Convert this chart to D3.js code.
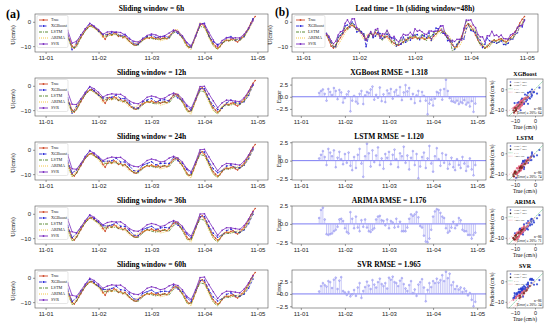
<!DOCTYPE html>
<html>
<head>
<meta charset="utf-8">
<script src="https://cdn.jsdelivr.net/npm/d3@7"></script>
<style>
  body { margin: 0; background: #fff; }
  svg { display: block; font-family: "Liberation Serif", "DejaVu Serif", serif; }
</style>
</head>
<body>
<svg id="fig" width="550" height="326"></svg>
<script>
'use strict';

// hourly observed current, 11-01 10:00 .. 11-04 23:00 (86 values)
const trueU = [
  -5.5, -7.5, -10.0, -10.8, -9.5, -8.0, -6.5, -5.0, -3.5, -2.5, -1.8, -1.5, -2.2, -3.0,
  -3.5, -4.5, -6.0, -7.2, -5.5, -4.8, -5.5, -4.5, -5.0, -6.0, -5.5, -6.5, -6.0, -7.0, -8.0, -8.8, -9.4, -9.6, -9.0, -8.2, -7.5, -7.0, -6.5, -6.8,
  -6.2, -6.8, -7.0, -6.5, -7.2, -6.8, -6.5, -7.0, -6.0, -5.0, -4.0, -3.5, -4.2, -5.5, -6.5, -7.8, -9.5, -10.5, -10.2, -8.5, -6.0, -3.5, -1.5, -0.8,
  -1.8, -3.5, -5.5, -7.5, -9.0, -10.0, -10.8, -10.2, -9.0, -8.0, -7.5, -7.8, -7.2, -7.0, -7.8, -8.3, -7.5, -6.5, -5.5, -4.0, -2.5, -0.5, 1.0, 2.2
];

// lead time 1h (window 48h): hourly errors (predicted - true)
const errXgb = [
  0.8, 1.2, 1.5, 0.6, -0.8, 1.6, 1.0, 0.4, 1.8, 1.2, -0.5, 1.4, 0.9, -1.2,
  -0.3, 0.5, 1.1, -3.0, -0.8, 0.2, -1.0, -1.4, 0.6, 1.2, -1.5, 0.3, 1.0, 0.8, 1.5, 2.1, -0.6, 0.4, -0.2, 1.9, -0.9, 0.5, -1.1, 1.3,
  0.7, 1.6, -0.4, 1.0, 1.4, 0.2, 2.0, -0.7, 0.9, 2.4, 1.1, 1.8, -0.5, 0.6, -1.3, 0.3, 1.2, -0.9, 1.0, 0.2, -0.8, -3.6, -1.4, -0.6,
  -1.8, -0.4, 1.0, 0.8, 1.4, -0.6, 1.6, 3.5, 1.2, -0.3, -0.9, -1.0, -1.2, -0.8, -1.5, -1.1, -1.3, -0.7, -1.6, -1.2, -2.0, -0.9, -3.1, -1.4
];
const errLstm = [
  0.3, 0.8, 1.3, 0.5, -0.6, 1.6, 1.1, 0.6, 1.4, -0.9, 0.4, 1.2, 0.2, -0.5,
  0.9, -0.3, 1.1, -0.7, -1.3, 0.5, -1.0, 0.8, 1.6, -0.4, -2.2, 0.6, 2.3, 1.0, -0.8, 1.4, -0.2, 0.7, 1.8, -0.6, 0.3, -1.1, 0.9, 0.4,
  1.2, -0.5, 0.8, 1.5, 0.2, -0.9, 1.0, 0.6, 1.9, -0.3, 0.7, -1.2, 0.4, 1.3, -0.6, 0.9, -2.4, -0.8, 0.5, 1.1, -1.0, 0.3, 2.0, -0.4,
  -1.5, 0.6, 1.7, 0.2, -0.7, 1.0, -0.3, 0.8, -1.1, -0.5, 0.4, -0.9, -1.3, 0.2, -0.6, -1.0, 0.5, -0.4, -1.4, -0.8, 0.3, -1.2, -2.0, -0.6
];
const errArima = [
  0.8, 1.9, 2.2, 0.6, -1.4, -1.5, -1.4, -1.3, -1.0, -0.8, -0.4, 0.6, 0.7, 0.4,
  -0.6, -1.1, -1.3, 1.6, 0.7, -0.6, 1.0, -0.5, -1.0, 0.5, -0.4, 0.6, -0.5, -1.0, -1.1, -0.8, -0.6, 0.6, 1.0, 1.1, 0.5, 0.4, -0.2, 0.6,
  -0.6, 0.4, 0.2, -0.5, 0.7, -0.4, 0.3, -1.0, -1.0, -1.0, -0.5, 0.7, 1.3, 1.1, 1.3, 1.6, 0.9, -0.3, -0.5, -1.6, -2.4, -2.5, -2.0, -0.8,
  1.0, 1.7, 2.0, 1.9, 1.5, 1.0, 0.8, -0.6, -1.2, -1.0, -0.5, 0.3, -0.6, -0.2, 0.8, 0.5, -0.8, -1.0, -1.0, -1.5, -1.5, -2.0, -1.5, -1.2
];
const errSvr = [
  0.5, 1.6, 2.2, 1.8, 1.5, 2.6, 2.4, 1.2, 2.9, 3.3, 1.0, 2.7, 3.4, 0.6,
  0.3, -0.2, 0.4, -0.5, -0.1, 0.8, -0.4, 1.3, 2.2, -0.8, 0.6, 1.4, 2.5, 1.7, 1.0, 2.8, 1.9, 1.3, 2.4, 3.1, 2.0, 1.6, 2.2, 1.1,
  3.3, 2.9, 3.5, 2.4, 2.2, 1.6, 2.7, 3.2, 2.0, 1.1, 0.6, 1.8, 2.6, 0.2, 0.9, -0.4, 1.9, 2.4, 3.0, 1.3, -1.5, 0.8, 2.2, 1.4,
  2.6, 2.2, 3.1, 2.3, 2.8, 3.8, 2.6, 4.5, 3.2, 4.1, 1.8, 2.4, 1.0, 1.6, 0.9, 1.3, 0.4, 1.1, 0.6, -0.3, 0.2, -1.2, -2.5, -1.6
];

// sliding-window runs: 2-hourly errors, 11-01 10:00 .. 11-04 22:00 (43 values)
const win6Xgb = [0.5, -1.5, 0.8, 1.2, 0.6, 1.0, 0.4, -0.5, 0.8, 0.3, 1.0, 0.6, -0.4, 0.9, 1.2, 0.5, -0.3, 0.7, 0.4, 0.8, 0.5, 1.1, 0.6, -0.5, 0.3, -0.6, 0.4, 0.9, -0.4, 0.2, 0.6, 1.2, -0.5, 0.8, 1.5, 0.4, 0.9, 1.1, 0.3, 0.5, -0.6, -0.4, 0.2];
const win6Lstm = [-0.8, -0.6, -1.0, 0.3, -0.4, 0.2, -0.3, -0.2, 0.4, -0.5, 0.3, -0.3, -0.6, -0.2, 0.1, -0.4, -0.5, -0.2, 0.3, -0.6, -0.3, 0.2, -0.4, -0.8, -0.5, 0.3, -0.2, -0.6, -0.3, 0.1, -0.4, -0.5, -0.3, -0.8, -0.6, 0.2, -0.3, -0.5, 0.4, -0.2, -0.6, -0.4, -0.3];
const win6Arima = [-1.2, -1.0, 0.8, 0.9, 0.6, 0.3, -0.5, -0.6, -0.8, 0.9, -0.3, 0.4, -0.5, -0.7, -0.6, 0.5, 0.8, 0.3, -0.2, -0.3, 0.2, -0.6, -0.8, -0.4, 0.6, 0.9, 0.3, -0.9, -1.3, 0.8, 1.2, -0.6, -1.2, -1.0, -0.5, 0.6, 0.3, -0.4, 0.5, 0.7, -0.8, -1.0, -0.9];
const win6Svr = [2.0, 1.2, 1.5, 1.0, 0.6, 1.2, 0.4, 0.3, 0.9, 1.3, 1.5, 0.8, 1.1, 0.6, 1.0, 1.4, 0.7, 0.5, 0.9, 1.2, 1.6, 1.0, 0.8, 1.4, 0.6, 0.2, 0.8, 1.0, 0.4, 0.3, 0.6, 0.9, 1.2, 1.5, 0.8, 1.3, 1.0, 0.6, 1.2, 0.9, 0.4, -0.2, -0.6];

const win12Xgb = [0.6, -1.2, 1.0, 0.8, 0.5, 1.3, 0.2, -0.4, 1.0, 0.6, 0.8, 1.2, 0.3, 0.7, 1.0, 0.4, -0.2, 0.9, 0.6, 1.0, 0.4, 1.3, 0.8, -0.3, 0.5, -0.8, 0.6, 1.1, 0.2, 0.5, 0.3, 0.6, 0.2, 0.9, 1.0, -0.2, 0.4, 1.3, 0.8, 0.3, -1.0, -1.5, -0.8];
const win12Lstm = [-1.0, -0.8, -0.6, 0.5, -0.2, 0.4, -0.5, -0.3, 0.6, -0.4, 0.2, -0.5, -0.8, -0.4, 0.3, -0.2, -0.6, -0.4, 0.2, -0.8, -0.5, 0.4, -0.2, -1.0, -0.7, 0.5, -0.3, -0.8, -0.5, 0.2, -0.6, -0.7, -0.4, -1.0, -0.8, 0.3, -0.5, -0.7, 0.6, -0.3, -0.8, -0.6, -0.4];
const win12Arima = [-1.5, -1.3, 1.0, 0.8, 0.7, 0.2, -0.6, -0.7, -0.9, 1.0, -0.4, 0.5, -0.6, -0.9, -0.8, 0.6, 0.9, 0.4, -0.3, -0.4, 0.3, -0.8, -1.0, -0.5, 0.7, 1.1, 0.4, -1.0, -1.5, 0.9, 1.4, -0.8, -1.4, -1.2, -0.6, 0.8, 0.4, -0.5, 0.6, 0.9, -0.9, -1.2, -1.0];
const win12Svr = [3.0, 2.4, 1.8, 1.2, 0.8, 1.5, 1.0, 0.8, 1.4, 1.8, 2.2, 1.5, 2.0, 1.4, 1.8, 2.3, 1.6, 1.2, 1.8, 2.0, 2.4, 1.8, 1.5, 2.2, 1.0, 0.6, 1.2, 1.6, 1.0, 0.8, 1.2, 1.6, 2.2, 2.8, 1.8, 2.0, 1.6, 1.2, 1.5, 1.0, 0.6, 0.2, -0.4];

const win24Xgb = [1.0, 0.5, 1.2, 0.6, 0.8, 1.5, 0.6, 0.2, 1.3, 0.8, 1.0, 1.6, 0.5, 1.0, 1.4, 0.8, 0.2, 1.2, 0.9, 1.3, 0.8, 1.6, 1.0, 0.4, 0.9, -0.3, 1.0, 1.4, 0.6, 0.8, 0.5, 0.9, 0.6, 1.2, 1.4, 0.5, 0.8, 1.0, 0.5, 0.1, -0.8, -1.2, -1.0];
const win24Lstm = [-0.6, -0.9, -0.4, 0.6, -0.1, 0.5, -0.3, -0.2, 0.7, -0.3, 0.3, -0.4, -0.6, -0.3, 0.4, -0.1, -0.5, -0.3, 0.3, -0.6, -0.4, 0.5, -0.1, -0.9, -0.6, 0.6, -0.2, -0.7, -0.4, 0.3, -0.5, -0.6, -0.3, -0.9, -0.7, 0.4, -0.4, -0.6, 0.7, -0.2, -0.7, -0.5, -0.3];
const win24Arima = [-1.3, -1.2, 0.9, 0.9, 0.6, 0.3, -0.5, -0.6, -0.8, 0.9, -0.3, 0.5, -0.5, -0.8, -0.7, 0.5, 0.8, 0.3, -0.2, -0.3, 0.3, -0.7, -0.9, -0.4, 0.6, 1.0, 0.3, -0.9, -1.4, 0.8, 1.3, -0.7, -1.3, -1.1, -0.5, 0.7, 0.3, -0.4, 0.5, 0.8, -0.8, -1.1, -0.9];
const win24Svr = [3.5, 2.2, 1.5, 0.9, 0.6, 1.3, 0.9, 0.7, 1.6, 2.0, 2.5, 1.8, 2.4, 1.6, 2.0, 2.6, 2.0, 1.5, 2.1, 2.4, 2.8, 2.2, 1.8, 2.6, 1.3, 0.8, 1.5, 1.8, 1.2, 1.0, 1.5, 2.0, 2.6, 3.2, 2.2, 2.4, 1.9, 1.5, 1.8, 1.2, 0.8, 0.3, -0.3];

const win36Xgb = [0.8, 0.2, 1.4, 0.9, 0.6, 1.1, 0.3, 0.0, 1.1, 0.5, 0.9, 1.4, 0.4, 0.8, 1.2, 0.6, 0.0, 1.0, 0.7, 1.1, 0.6, 1.4, 0.9, 0.2, 0.7, -0.5, 0.8, 1.2, 0.4, 0.6, 0.3, 0.7, 0.4, 1.0, 1.2, 0.3, 0.6, 0.9, 0.3, -0.2, -1.1, -1.6, -1.2];
const win36Lstm = [-0.9, -1.1, -0.5, 0.4, -0.3, 0.3, -0.4, -0.4, 0.5, -0.5, 0.1, -0.6, -0.9, -0.5, 0.2, -0.3, -0.7, -0.5, 0.1, -0.9, -0.6, 0.3, -0.3, -1.1, -0.8, 0.4, -0.4, -0.9, -0.6, 0.1, -0.7, -0.8, -0.5, -1.1, -0.9, 0.2, -0.6, -0.8, 0.5, -0.4, -0.9, -0.7, -0.5];
const win36Arima = [-1.4, -1.1, 0.9, 0.8, 0.6, 0.2, -0.6, -0.7, -0.9, 0.9, -0.4, 0.4, -0.6, -0.8, -0.7, 0.6, 0.8, 0.3, -0.3, -0.4, 0.2, -0.7, -1.0, -0.5, 0.6, 1.0, 0.3, -1.0, -1.4, 0.8, 1.3, -0.7, -1.3, -1.1, -0.6, 0.7, 0.3, -0.5, 0.5, 0.8, -0.9, -1.1, -1.0];
const win36Svr = [3.2, 2.6, 1.7, 1.1, 0.7, 1.4, 0.8, 0.6, 1.5, 1.9, 2.3, 1.6, 2.2, 1.5, 1.9, 2.4, 1.8, 1.4, 2.0, 2.2, 2.6, 2.0, 1.7, 2.4, 1.2, 0.7, 1.4, 1.7, 1.1, 0.9, 1.4, 1.8, 2.4, 3.0, 2.0, 2.2, 1.8, 1.4, 1.7, 1.1, 0.7, 0.3, -0.2];

const win60Xgb = [0.9, 0.3, 1.3, 0.7, 0.5, 1.2, 0.4, 0.1, 1.2, 0.7, 1.1, 1.5, 0.6, 0.9, 1.3, 0.7, 0.1, 1.1, 0.8, 1.2, 0.7, 1.5, 1.0, 0.3, 0.8, -0.4, 0.9, 1.3, 0.5, 0.7, 0.4, 0.8, 0.5, 1.1, 1.3, 0.4, 0.7, 1.0, 0.4, -0.1, -1.2, -1.8, -1.5];
const win60Lstm = [-0.7, -1.0, -0.3, 0.5, -0.2, 0.4, -0.2, -0.3, 0.6, -0.4, 0.2, -0.5, -0.7, -0.4, 0.3, -0.2, -0.6, -0.4, 0.2, -0.7, -0.5, 0.4, -0.2, -1.0, -0.7, 0.5, -0.3, -0.8, -0.5, 0.2, -0.6, -0.7, -0.4, -1.0, -0.8, 0.3, -0.5, -0.7, 0.6, -0.3, -0.8, -0.6, -0.4];
const win60Arima = [-1.2, -1.0, 0.8, 0.9, 0.5, 0.3, -0.5, -0.5, -0.8, 0.8, -0.3, 0.5, -0.5, -0.7, -0.6, 0.5, 0.7, 0.3, -0.2, -0.3, 0.3, -0.6, -0.9, -0.4, 0.5, 0.9, 0.3, -0.9, -1.3, 0.7, 1.2, -0.6, -1.2, -1.0, -0.5, 0.6, 0.3, -0.4, 0.4, 0.7, -0.8, -1.0, -0.9];
const win60Svr = [3.4, 2.8, 1.9, 1.3, 0.9, 1.6, 1.1, 0.9, 1.7, 2.1, 2.6, 1.9, 2.5, 1.8, 2.1, 2.7, 2.1, 1.6, 2.2, 2.5, 2.9, 2.3, 2.0, 2.7, 1.4, 1.0, 1.6, 1.9, 1.3, 1.1, 1.6, 2.1, 2.7, 3.3, 2.3, 2.5, 2.0, 1.6, 1.9, 1.3, 0.9, 0.4, -0.2];

const windowTitles = ['Sliding window = 6h', 'Sliding window = 12h', 'Sliding window = 24h',
  'Sliding window = 36h', 'Sliding window = 60h'];
const modelNames = ['XGBoost', 'LSTM', 'ARIMA', 'SVR'];
const modelRmse = ['1.318', '1.120', '1.176', '1.965'];
const within20 = [64, 74, 71, 34];

const seriesLabels = ['True', 'XGBoost', 'LSTM', 'ARIMA', 'SVR'];
const seriesColors = ['#cf4a2a', '#2323d6', '#4a7f22', '#f0c030', '#7b2cbf'];
const seriesDash = [null, '3,1.5', '3,1,1,1', '1,1', null];
const seriesDots = [true, true, false, false, true];

const svg = d3.select('#fig');
const start = Date.UTC(2020, 10, 1, 10);
const hour = i => new Date(start + i * 3600e3);
const xDomain = [new Date(Date.UTC(2020, 9, 31, 19, 12)), new Date(Date.UTC(2020, 10, 5, 4, 48))];
const dayTicks = d3.utcDay.range(new Date(Date.UTC(2020, 10, 1)), new Date(Date.UTC(2020, 10, 5, 1)));
const dayFmt = d3.utcFormat('%m-%d');

const panelH = 38;
const tops = [14, 78, 142, 206, 270];

function frame(g, w, h) {
  g.append('rect')
    .attr('width', w)
    .attr('height', h)
    .attr('fill', 'none')
    .attr('stroke', '#555')
    .attr('stroke-width', 0.6);
}

function styleAxis(a, size) {
  a.select('.domain').remove();
  a.selectAll('line').attr('stroke', '#555').attr('stroke-width', 0.6);
  a.selectAll('text').attr('font-size', size).attr('fill', '#222');
}

function timeAxis(g, x, h) {
  g.append('g')
    .attr('transform', 'translate(0,' + h + ')')
    .call(d3.axisBottom(x).tickValues(dayTicks).tickFormat(dayFmt).tickSize(2).tickPadding(2))
    .call(a => styleAxis(a, 6));
}

function legend(g) {
  const lg = g.append('g').attr('transform', 'translate(2,1.5)');
  lg.append('rect')
    .attr('width', 31)
    .attr('height', 32)
    .attr('rx', 1.5)
    .attr('fill', '#fff')
    .attr('fill-opacity', 0.85)
    .attr('stroke', '#ccc')
    .attr('stroke-width', 0.5);

  seriesLabels.forEach((name, i) => {
    const yy = 4.5 + i * 6;
    lg.append('line')
      .attr('x1', 2).attr('x2', 11).attr('y1', yy).attr('y2', yy)
      .attr('stroke', seriesColors[i])
      .attr('stroke-width', 0.9)
      .attr('stroke-dasharray', seriesDash[i]);
    if (seriesDots[i]) {
      lg.append('circle').attr('cx', 6.5).attr('cy', yy).attr('r', 0.9).attr('fill', seriesColors[i]);
    }
    lg.append('text')
      .attr('x', 14).attr('y', yy + 1.4)
      .attr('font-size', 4.2)
      .attr('fill', '#222')
      .text(name);
  });
}

// series: [{t, v}] arrays for True, XGBoost, LSTM, ARIMA, SVR
function linePanel(left, top, width, title, series) {
  const g = svg.append('g').attr('transform', 'translate(' + left + ',' + top + ')');
  const x = d3.scaleUtc().domain(xDomain).range([0, width]);
  const y = d3.scaleLinear().domain([-12.4, 3.2]).range([panelH, 0]);

  const line = d3.line().x(d => x(d.t)).y(d => y(d.v));

  series.forEach((s, i) => {
    g.append('path')
      .datum(s)
      .attr('fill', 'none')
      .attr('stroke', seriesColors[i])
      .attr('stroke-width', 0.8)
      .attr('stroke-dasharray', seriesDash[i])
      .attr('d', line);
    if (seriesDots[i]) {
      g.append('g')
        .selectAll('circle')
        .data(s)
        .enter().append('circle')
        .attr('cx', d => x(d.t))
        .attr('cy', d => y(d.v))
        .attr('r', 0.8)
        .attr('fill', seriesColors[i]);
    }
  });

  frame(g, width, panelH);
  timeAxis(g, x, panelH);

  g.append('g')
    .call(d3.axisLeft(y).tickValues([0, -10]).tickSize(2).tickPadding(2))
    .call(a => styleAxis(a, 6));

  legend(g);

  g.append('text')
    .attr('x', width / 2)
    .attr('y', -3)
    .attr('text-anchor', 'middle')
    .attr('font-size', 7.5)
    .attr('font-weight', 'bold')
    .text(title);

  g.append('text')
    .attr('transform', 'translate(' + (-20) + ',' + (panelH / 2 + 2) + ') rotate(-90)')
    .attr('text-anchor', 'middle')
    .attr('font-size', 6)
    .text('U(cm/s)');
}

function errorPanel(left, top, width, title, err) {
  const g = svg.append('g').attr('transform', 'translate(' + left + ',' + top + ')');
  const x = d3.scaleUtc().domain(xDomain).range([0, width]);
  const ext = d3.extent(err.concat([0]));
  const pad = (ext[1] - ext[0]) * 0.05;
  const y = d3.scaleLinear().domain([ext[0] - pad, ext[1] + pad]).range([panelH, 0]);

  g.append('line')
    .attr('x1', 0).attr('x2', width)
    .attr('y1', y(0)).attr('y2', y(0))
    .attr('stroke', '#5b5bf0')
    .attr('stroke-width', 0.8);

  g.append('g')
    .selectAll('line')
    .data(err)
    .enter().append('line')
    .attr('x1', (d, i) => x(hour(i)))
    .attr('x2', (d, i) => x(hour(i)))
    .attr('y1', y(0))
    .attr('y2', d => y(d))
    .attr('stroke', '#a3a3f2')
    .attr('stroke-width', 0.6);

  g.append('g')
    .selectAll('circle')
    .data(err)
    .enter().append('circle')
    .attr('cx', (d, i) => x(hour(i)))
    .attr('cy', d => y(d))
    .attr('r', 0.9)
    .attr('fill', '#c8c8fa')
    .attr('stroke', '#7a7aea')
    .attr('stroke-width', 0.4);

  frame(g, width, panelH);
  timeAxis(g, x, panelH);

  g.append('g')
    .call(d3.axisLeft(y).tickValues([-2.5, 0, 2.5]).tickFormat(d3.format('.1f')).tickSize(2).tickPadding(2))
    .call(a => styleAxis(a, 6));

  g.append('text')
    .attr('x', width / 2)
    .attr('y', -3)
    .attr('text-anchor', 'middle')
    .attr('font-size', 7.5)
    .attr('font-weight', 'bold')
    .text(title);

  g.append('text')
    .attr('transform', 'translate(' + (-11) + ',' + (panelH / 2) + ') rotate(-90)')
    .attr('text-anchor', 'middle')
    .attr('font-size', 6)
    .text('Error');
}

function scatterPanel(left, top, name, err, inside, id) {
  const w = 36;
  const h = 37;
  const g = svg.append('g').attr('transform', 'translate(' + left + ',' + top + ')');
  const x = d3.scaleLinear().domain([-14, 4]).range([0, w]);
  const y = d3.scaleLinear().domain([-13, 5]).range([h, 0]);

  g.append('clipPath').attr('id', 'clip' + id)
    .append('rect').attr('width', w).attr('height', h);
  const body = g.append('g').attr('clip-path', 'url(#clip' + id + ')');

  const pts = trueU.map((t, i) => ({ t: t, p: t + err[i], rel: Math.abs(err[i] / t) }));
  const colour = d => d.rel <= 0.1 ? '#8b1a1a' : (d.rel <= 0.2 ? '#e0607e' : '#2a3fd0');

  body.append('g')
    .selectAll('circle')
    .data(pts)
    .enter().append('circle')
    .attr('cx', d => x(d.t))
    .attr('cy', d => y(d.p))
    .attr('r', 1.1)
    .attr('fill', colour)
    .attr('fill-opacity', 0.85);

  body.append('line')
    .attr('x1', x(-14)).attr('y1', y(-14)).attr('x2', x(5)).attr('y2', y(5))
    .attr('stroke', '#3cb371').attr('stroke-width', 0.6).attr('stroke-dasharray', '2,1');
  [1.2, 0.8].forEach(k => {
    body.append('line')
      .attr('x1', x(-14)).attr('y1', y(-14 * k)).attr('x2', x(0)).attr('y2', y(0))
      .attr('stroke', '#f28aa0').attr('stroke-width', 0.5).attr('stroke-dasharray', '1.5,1');
  });

  const keys = [['Error > 20%', '#2a3fd0', 'dot'], ['Error ≤ 20%', '#222', 'dot'],
    ['1 : 1', '#3cb371', 'line'], ['±20% line', '#f28aa0', 'line']];
  keys.forEach((k, i) => {
    const yy = 3 + i * 3.4;
    if (k[2] === 'dot') {
      g.append('circle').attr('cx', 3.5).attr('cy', yy).attr('r', 0.8).attr('fill', k[1]);
    } else {
      g.append('line').attr('x1', 1.5).attr('x2', 5.5).attr('y1', yy).attr('y2', yy)
        .attr('stroke', k[1]).attr('stroke-width', 0.5).attr('stroke-dasharray', '1.2,0.6');
    }
    g.append('text').attr('x', 7).attr('y', yy + 0.9).attr('font-size', 2.6).attr('fill', '#333').text(k[0]);
  });

  g.append('text')
    .attr('x', w - 1.5).attr('y', h - 6.5)
    .attr('text-anchor', 'end').attr('font-size', 3.6)
    .text('n=' + pts.length);
  g.append('text')
    .attr('x', w - 1.5).attr('y', h - 2)
    .attr('text-anchor', 'end').attr('font-size', 3.6)
    .text('|Error| ≤ 20%: ' + inside);

  frame(g, w, h);

  g.append('g')
    .attr('transform', 'translate(0,' + h + ')')
    .call(d3.axisBottom(x).tickValues([-10, 0]).tickSize(1.5).tickPadding(1.5))
    .call(a => styleAxis(a, 5.5));
  g.append('g')
    .call(d3.axisLeft(y).tickValues([-10, 0]).tickSize(1.5).tickPadding(1.5))
    .call(a => styleAxis(a, 5.5));

  g.append('text')
    .attr('x', w / 2).attr('y', -3)
    .attr('text-anchor', 'middle')
    .attr('font-size', 6)
    .attr('font-weight', 'bold')
    .text(name);
  g.append('text')
    .attr('x', w / 2).attr('y', h + 12.5)
    .attr('text-anchor', 'middle')
    .attr('font-size', 5.2)
    .text('True (cm/s)');
  g.append('text')
    .attr('transform', 'translate(' + (-13) + ',' + (h / 2) + ') rotate(-90)')
    .attr('text-anchor', 'middle')
    .attr('font-size', 5.2)
    .text('Predicted (cm/s)');
}

function main() {
  const trueSeries = trueU.map((v, i) => ({ t: hour(i), v: v }));
  const twoHourly = err => err.map((e, i) => ({ t: hour(2 * i), v: trueU[2 * i] + e }));
  const hourly = err => err.map((e, i) => ({ t: hour(i), v: trueU[i] + e }));

  const windowRuns = [
    [win6Xgb, win6Lstm, win6Arima, win6Svr],
    [win12Xgb, win12Lstm, win12Arima, win12Svr],
    [win24Xgb, win24Lstm, win24Arima, win24Svr],
    [win36Xgb, win36Lstm, win36Arima, win36Svr],
    [win60Xgb, win60Lstm, win60Arima, win60Svr]
  ];

  windowRuns.forEach((run, k) => {
    linePanel(35, tops[k], 233, windowTitles[k], [trueSeries].concat(run.map(twoHourly)));
  });

  const leadErrs = [errXgb, errLstm, errArima, errSvr];
  linePanel(292, tops[0], 246, 'Lead time = 1h (sliding window=48h)',
    [trueSeries].concat(leadErrs.map(hourly)));

  leadErrs.forEach((err, k) => {
    errorPanel(292, tops[k + 1], 194, modelNames[k] + ' RMSE = ' + modelRmse[k], err);
    scatterPanel(507, tops[k + 1] + 1, modelNames[k], err, within20[k], k);
  });

  svg.append('text').attr('x', 6).attr('y', 18)
    .attr('font-size', 12).attr('font-weight', 'bold').text('(a)');
  svg.append('text').attr('x', 275).attr('y', 16)
    .attr('font-size', 11.5).attr('font-weight', 'bold').text('(b)');
}

if (document.readyState !== 'loading')
  main();
else
  document.addEventListener('DOMContentLoaded', main);
</script>
</body>
</html>
